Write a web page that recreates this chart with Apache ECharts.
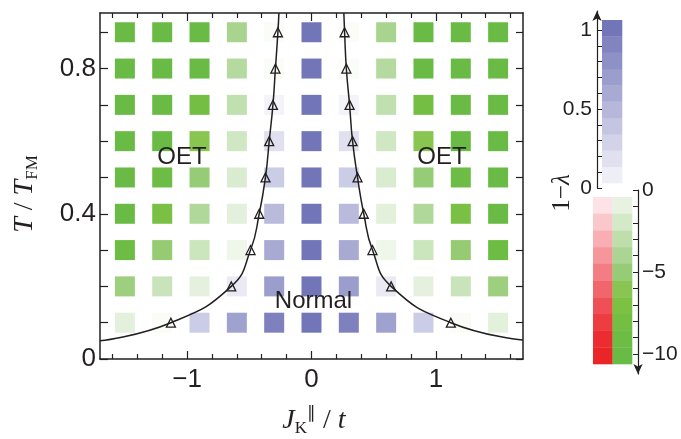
<!DOCTYPE html>
<html><head><meta charset="utf-8">
<script src="https://cdn.jsdelivr.net/npm/echarts@6/dist/echarts.min.js"></script>
<style>html,body{margin:0;padding:0;background:#fff}#c{width:681px;height:439px}</style>
</head><body><div id="c"></div>
<script>
// ---- data ----
const jValues = [-1.5,-1.2,-0.9,-0.6,-0.3,0,0.3,0.6,0.9,1.2,1.5];
const tValues = [0.1,0.2,0.3,0.4,0.5,0.6,0.7,0.8,0.9];
// 1 - lambda, one array per temperature row (columns follow jValues)
const lambdaT01 = [-0.7,-0.05,0.3,0.62,0.88,1.0,0.88,0.62,0.3,-0.05,-0.7];
const lambdaT02 = [-4.2,-2.0,-0.6,0.08,0.65,1.0,0.65,0.08,-0.6,-2.0,-4.2];
const lambdaT03 = [-8.5,-4.6,-1.9,-0.3,0.55,1.0,0.55,-0.3,-1.9,-4.6,-8.5];
const lambdaT04 = [-10,-7,-3.2,-0.7,0.42,1.0,0.42,-0.7,-3.2,-7,-10];
const lambdaT05 = [-10,-9,-4.5,-1.2,0.3,1.0,0.3,-1.2,-4.5,-9,-10];
const lambdaT06 = [-10,-9.5,-5.6,-1.7,0.15,1.0,0.15,-1.7,-5.6,-9.5,-10];
const lambdaT07 = [-10,-10,-7.5,-2.4,0.03,1.0,0.03,-2.4,-7.5,-10,-10];
const lambdaT08 = [-10,-10,-9.5,-3.0,-0.03,1.0,-0.03,-3.0,-9.5,-10,-10];
const lambdaT09 = [-10,-10,-10,-3.6,-0.05,1.0,-0.05,-3.6,-10,-10,-10];
const lambdaRows = [lambdaT01,lambdaT02,lambdaT03,lambdaT04,lambdaT05,lambdaT06,lambdaT07,lambdaT08,lambdaT09];

// phase boundary (with triangles at the computed points)
const leftBoundaryJ  = [-1.7,-1.13,-0.645,-0.49,-0.42,-0.37,-0.34,-0.31,-0.29,-0.27,-0.262];
const leftBoundaryT  = [0.05,0.1,0.2,0.3,0.4,0.5,0.6,0.7,0.8,0.9,0.953];
const rightBoundaryJ = [1.7,1.12,0.64,0.49,0.42,0.37,0.33,0.306,0.28,0.266,0.26];
const rightBoundaryT = [0.052,0.1,0.2,0.3,0.4,0.5,0.6,0.7,0.8,0.9,0.953];

// tick labels
const xTickLabels = [-1,0,1];
const xMinorTicks = [-1.6,-1.4,-1.2,-0.8,-0.6,-0.4,-0.2,0.2,0.4,0.6,0.8,1.2,1.4,1.6];
const yTickLabels = [0,0.4,0.8];
const yTicks = [0,0.1,0.2,0.3,0.4,0.5,0.6,0.7,0.8,0.9];
const blueBarLabels = [0,0.5,1];
const blueBarTicks = [0,0.1,0.2,0.3,0.4,0.5,0.6,0.7,0.8,0.9,1];
const redBarLabels = [0,-5,-10];
const redBarTicks = [0,-1,-2,-3,-4,-5,-6,-7,-8,-9,-10];

// colour bar steps
const blueSteps = ['#EEEEF6','#E0E0EF','#D2D2E8','#C4C5E1','#B6B7DA','#A9AAD3','#9B9DCC','#8E91C5','#8184BF','#7276B8']; // 0 -> 1
const greenSteps = ['#E7F2E0','#D3E9C7','#BEDFAC','#AAD593','#97CC77','#89C553','#7DC143','#74BE44','#6DBC44','#6ABB45']; // 0 -> -10
const redSteps = ['#FDE3E5','#FAC8CB','#F8AEB2','#F6969A','#F37D82','#F1666B','#EF5055','#ED3D41','#EB2C30','#EA2427'];

// ---- helpers ----
const INK = '#231F20';
const SANS = 'Liberation Sans, Arial, Helvetica, sans-serif';
const SERIF = 'Liberation Serif, Times New Roman, serif';
function hex(h){return [parseInt(h.slice(1,3),16),parseInt(h.slice(3,5),16),parseInt(h.slice(5,7),16)];}
function interp(stops, v){
  if (v <= stops[0][0]) return stops[0][1];
  for (let i=1;i<stops.length;i++){
    if (v <= stops[i][0]){
      const a=stops[i-1], b=stops[i], f=(v-a[0])/(b[0]-a[0]);
      const ca=hex(a[1]), cb=hex(b[1]);
      return 'rgb('+ca.map((c,k)=>Math.round(c+(cb[k]-c)*f)).join(',')+')';
    }
  }
  return stops[stops.length-1][1];
}
const blueStops = [[0,'#FAFAFD']].concat(blueSteps.slice(0,9).map((c,i)=>[(i+0.5)/10,c])).concat([[1,blueSteps[9]]]);
const greenStops = [[0,'#FBFDFA']].concat(greenSteps.map((c,i)=>[i+0.5,c])).concat([[10,greenSteps[9]]]);
function cellColor(v){ return v >= 0 ? interp(blueStops, v) : interp(greenStops, -v); }
function fmt(v){ return v < 0 ? '\u2212' + String(-v) : String(v); }

const cells = [];
tValues.forEach((t,r)=>{ jValues.forEach((j,c)=>{
  const v = lambdaRows[r][c];
  cells.push({value:[j,t,v], itemStyle:{color:cellColor(v), opacity:1}});
});});
function boundary(js, ts){
  return js.map((j,i)=>({value:[j,ts[i]], symbol:(i===0||i===js.length-1)?'none':'triangle'}));
}

const axisLineStyle = {color:INK, width:1.5};
function mainX(pos, ticks, len, labels, line){
  return {gridIndex:0, type:'value', min:-1.7, max:1.7, position:pos,
    axisLine:{show:line, onZero:false, lineStyle:axisLineStyle},
    axisTick:{show:true, inside:true, length:len, customValues:ticks, lineStyle:{color:INK,width:1.2}},
    axisLabel:labels?{show:true, customValues:labels, formatter:fmt, color:INK, fontSize:26, fontFamily:SANS, margin:8}:{show:false},
    splitLine:{show:false}};
}
function hiddenX(g,min,max){return {gridIndex:g,type:'value',min:min,max:max,show:false};}

function barRender(colors, x0){
  return function(params, api){
    const i = params.dataIndex;
    const p1 = api.coord([x0, i]);
    const p2 = api.coord([x0+1, i+1]);
    return {type:'rect', shape:{x:Math.min(p1[0],p2[0]), y:Math.min(p1[1],p2[1]),
      width:Math.abs(p2[0]-p1[0])+0.3, height:Math.abs(p2[1]-p1[1])+0.3}, style:{fill:colors[i]}};
  };
}
const stepData = blueSteps.map((c,i)=>[i]);

const lineCommon = {type:'line', xAxisIndex:0, yAxisIndex:0, smooth:0.5,
  symbolSize:9, showAllSymbol:true, lineStyle:{color:INK,width:1.5},
  itemStyle:{color:'rgba(0,0,0,0)',borderColor:INK,borderWidth:1.3}, z:3};

const option = {
  animation:false,
  backgroundColor:'#fff',
  grid:[
    {left:100, top:13, width:423, height:346},
    {left:597, top:11, width:25, height:177},
    {left:593, top:190, width:45, height:184},
    {left:602, top:20, width:20, height:163},
    {left:593, top:197, width:39, height:167}
  ],
  xAxis:[
    mainX('bottom', xTickLabels, 8, xTickLabels, true),
    mainX('bottom', xMinorTicks, 5, null, false),
    mainX('top', xTickLabels, 8, null, true),
    mainX('top', xMinorTicks, 5, null, false),
    hiddenX(1,0,1), hiddenX(2,0,1), hiddenX(3,0,1), hiddenX(4,0,2)
  ],
  yAxis:[
    {gridIndex:0, type:'value', min:0, max:0.953, position:'left',
      axisLine:{show:true,onZero:false,lineStyle:axisLineStyle},
      axisTick:{show:true,inside:true,length:8,customValues:yTicks,lineStyle:{color:INK,width:1.2}},
      axisLabel:{show:true,customValues:yTickLabels,formatter:fmt,color:INK,fontSize:26,fontFamily:SANS,margin:4},
      splitLine:{show:false}},
    {gridIndex:0, type:'value', min:0, max:0.953, position:'right',
      axisLine:{show:true,onZero:false,lineStyle:axisLineStyle},
      axisTick:{show:true,inside:true,length:7,customValues:yTicks,lineStyle:{color:INK,width:1.2}},
      axisLabel:{show:false}, splitLine:{show:false}},
    {gridIndex:1, type:'value', min:0, max:1.12, position:'left',
      axisLine:{show:true,onZero:false,symbol:['none','arrow'],symbolSize:[7,10],lineStyle:{color:INK,width:1.2}},
      axisTick:{show:true,inside:true,length:5,customValues:blueBarTicks,lineStyle:{color:INK,width:1}},
      axisLabel:{show:true,customValues:blueBarLabels,formatter:fmt,color:INK,fontSize:21,fontFamily:SANS,margin:5},
      splitLine:{show:false}},
    {gridIndex:2, type:'value', min:-11.22, max:0, position:'right',
      axisLine:{show:true,onZero:false,symbol:['arrow','none'],symbolSize:[7,10],lineStyle:{color:INK,width:1.2}},
      axisTick:{show:true,inside:true,length:5,customValues:redBarTicks,lineStyle:{color:INK,width:1}},
      axisLabel:{show:true,customValues:redBarLabels,formatter:fmt,color:INK,fontSize:21,fontFamily:SANS,margin:4},
      splitLine:{show:false}},
    {gridIndex:3, type:'value', min:0, max:10, show:false},
    {gridIndex:4, type:'value', min:0, max:10, inverse:true, show:false}
  ],
  series:[
    {type:'scatter', xAxisIndex:0, yAxisIndex:0, symbol:'rect', symbolSize:20, data:cells, z:1, silent:true,
      itemStyle:{opacity:1}},
    Object.assign({data:boundary(leftBoundaryJ,leftBoundaryT)}, lineCommon),
    Object.assign({data:boundary(rightBoundaryJ,rightBoundaryT)}, lineCommon),
    {type:'custom', xAxisIndex:6, yAxisIndex:4, data:stepData, renderItem:barRender(blueSteps,0), silent:true},
    {type:'custom', xAxisIndex:7, yAxisIndex:5, data:stepData, renderItem:barRender(redSteps,0), silent:true},
    {type:'custom', xAxisIndex:7, yAxisIndex:5, data:stepData, renderItem:barRender(greenSteps,1), silent:true}
  ],
  graphic:[
    {type:'text', x:182, y:157, z:100, style:{text:'OET', fill:INK, fontSize:24, fontFamily:SANS, align:'center', verticalAlign:'middle'}},
    {type:'text', x:442, y:157, z:100, style:{text:'OET', fill:INK, fontSize:24, fontFamily:SANS, align:'center', verticalAlign:'middle'}},
    {type:'text', x:313.5, y:301, z:100, style:{text:'Normal', fill:INK, fontSize:24, fontFamily:SANS, align:'center', verticalAlign:'middle'}},
    {type:'text', x:314, y:421, z:100, style:{text:'{i|J}{s|K}{p|\u2225}{n| / }{i|t}', fill:INK, fontSize:28, fontFamily:SERIF, align:'center', verticalAlign:'middle',
      rich:{i:{fontSize:28,fontFamily:SERIF,fontStyle:'italic',fill:INK},
            n:{fontSize:28,fontFamily:SERIF,fill:INK},
            s:{fontSize:17,fontFamily:SERIF,fill:INK,padding:[16,0,0,0]},
            p:{fontSize:17,fontFamily:SERIF,fill:INK,padding:[0,0,14,0]}}}},
    {type:'text', x:25, y:194, rotation:Math.PI/2, z:100, style:{text:'{i|T}{n| / }{i|T}{s|FM}', fill:INK, fontSize:28, fontFamily:SERIF, align:'center', verticalAlign:'middle',
      rich:{i:{fontSize:28,fontFamily:SERIF,fontStyle:'italic',fill:INK},
            n:{fontSize:28,fontFamily:SERIF,fill:INK},
            s:{fontSize:17,fontFamily:SERIF,fill:INK,padding:[16,0,0,0]}}}},
    {type:'text', x:562, y:193, rotation:Math.PI/2, z:100, style:{text:'{n|1\u2212}{i|\u03bb}', fill:INK, fontSize:25, fontFamily:SERIF, align:'center', verticalAlign:'middle',
      rich:{n:{fontSize:25,fontFamily:SERIF,fill:INK}, i:{fontSize:25,fontFamily:SERIF,fontStyle:'italic',fill:INK}}}}
  ]
};
const chart = echarts.init(document.getElementById('c'), null, {renderer:'canvas'});
chart.setOption(option);
</script>
</body></html>
